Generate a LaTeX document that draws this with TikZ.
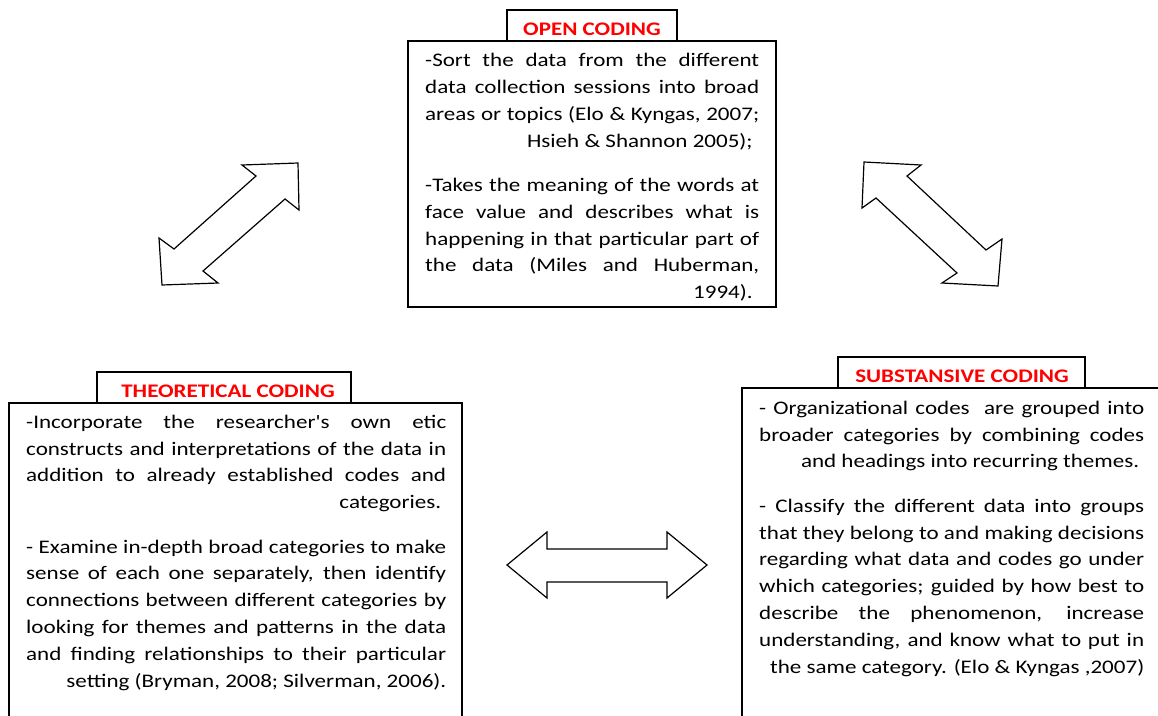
\documentclass[tikz,border=0pt]{standalone}
\usepackage{fontspec}
\setmainfont{Carlito}[FakeStretch=1.2, Ligatures=TeXOff]

% one justified line filling the block width
\newcommand\fulline[1]{\hbox to\hsize{#1}}
% one line set flush right, optionally pulled in from the right edge
\newcommand\flushline[2][0pt]{\hbox to\hsize{\hfill#2\hspace*{#1}}}
% a block of lines with the given width; its baseline is the first line's
\newcommand\textblock[2]{\vtop{\hsize=#1\relax #2}}
\newcommand\paragap{\vskip17.6pt}

\tikzset{
  x=1pt, y=-1pt,
  frame/.style={draw=black, line width=1.2pt, fill=white},
  blockarrow/.style={draw=black, line width=1.2pt, fill=white, line join=miter},
  bodytext/.style={anchor=base west, inner sep=0pt,
    font=\fontsize{19.2pt}{26.8pt}\selectfont},
  titletext/.style={anchor=base, inner sep=0pt, text=red,
    font=\fontsize{19.2pt}{26.8pt}\selectfont\bfseries},
}

\begin{document}
\begin{tikzpicture}
\useasboundingbox (0,0) rectangle (1158,715);
\fill[white] (0,0) rectangle (1158,715);
\begin{scope}
\clip (0,0) rectangle (1158,715);

% frames: heading tab on top of each text box
\draw[frame] (507,10) rectangle (677,41);
\draw[frame] (408,41) rectangle (776,307);

\draw[frame] (97,372) rectangle (351,403);
\draw[frame] (9,403) rectangle (462,740);

\draw[frame] (838,357) rectangle (1085,388);
\draw[frame] (742,388) rectangle (1180,740);

% double-headed block arrows
\draw[blockarrow] (242,165) -- (298,163) -- (299,210) -- (285,199) -- (203,271)
  -- (218,283) -- (162,285) -- (159,238) -- (174,249) -- (256,176) -- cycle;
\draw[blockarrow] (864,162) -- (921,165) -- (907,176) -- (986,250) -- (1002,239)
  -- (998,286) -- (942,283) -- (957,273) -- (876,198) -- (862,208) -- cycle;
\draw[blockarrow] (507,565) -- (547,532) -- (547,549) -- (667,549) -- (667,532)
  -- (707,565) -- (667,598) -- (667,582) -- (547,582) -- (547,598) -- cycle;
\end{scope}

% headings
\node[titletext] (opentitle) at (592,35) {OPEN CODING};
\node[titletext] (theotitle) at (228,397) {THEORETICAL CODING};
\node[titletext] (substitle) at (962,382.3) {SUBSTANSIVE CODING};

% box contents
\node[bodytext] (opentext) at (425,66.7) {\textblock{334pt}{%
  \fulline{-Sort the data from the different}
  \fulline{data collection sessions into broad}
  \fulline{areas or topics (Elo \& Kyngas, 2007;}
  \flushline[6.5pt]{Hsieh \& Shannon 2005);}
  \paragap
  \fulline{-Takes the meaning of the words at}
  \fulline{face value and describes what is}
  \fulline{happening in that particular part of}
  \fulline{the data (Miles and Huberman,}
  \flushline[6.5pt]{1994).}
}};

\node[bodytext] (theotext) at (26,428.3) {\textblock{420pt}{%
  \fulline{-Incorporate the researcher's own etic}
  \fulline{constructs and interpretations of the data in}
  \fulline{addition to already established codes and}
  \flushline[5pt]{categories.}
  \paragap
  \fulline{- Examine in-depth broad categories to make}
  \fulline{sense of each one separately, then identify}
  \fulline{connections between different categories by}
  \fulline{looking for themes and patterns in the data}
  \fulline{and finding relationships to their particular}
  \flushline{setting (Bryman, 2008; Silverman, 2006).}
}};

\node[bodytext] (substext) at (759,414.3) {\textblock{385pt}{%
  \fulline{- Organizational codes~ are grouped into}
  \fulline{broader categories by combining codes}
  \flushline[5pt]{and headings into recurring themes.}
  \paragap
  \fulline{- Classify the different data into groups}
  \fulline{that they belong to and making decisions}
  \fulline{regarding what data and codes go under}
  \fulline{which categories; guided by how best to}
  \fulline{describe the phenomenon, increase}
  \fulline{understanding, and know what to put in}
  \flushline{the same category. (Elo \& Kyngas ,2007)}
}};
\end{tikzpicture}
\end{document}
